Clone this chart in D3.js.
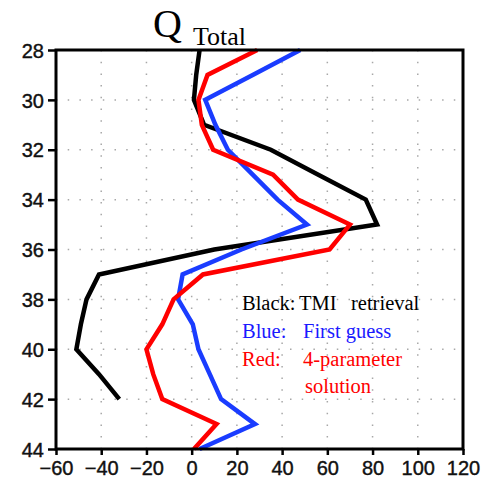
<!DOCTYPE html>
<html>
<head>
  <meta charset="UTF-8">
  <title>Q Total profile</title>
  <style>
    body { margin: 0; background: white; }
    .tick text { font-family: "Liberation Sans", Arial, sans-serif; }
    .serif { font-family: "Liberation Serif", "Times New Roman", serif; }
  </style>
</head>
<body>
<svg id="chart"></svg>
<script src="https://d3js.org/d3.v7.min.js"></script>
<script>

// data: vertical level (y) and the three profiles
var levels   = [28, 29, 30, 31, 32, 33, 34, 35, 36, 37, 38, 39, 40, 41, 42, 43, 44]
var tmiRetrieval = [3.5, 2, 1, 5.5, 35, 56, 77, 82, 10, -41, -46.5, -49, -51, -41, -32, null, null]
var firstGuess   = [48, 27, 6, 10.5, 16, 27, 38, 51, 22, -4, -6, 0.5, 3, 8, 13, 28, 3.5]
var fourParam    = [29, 7, 3, 4.5, 9.5, 36, 47, 70, 61, 5, -8, -13, -20, -17, -13, 11, 1]

var xTicks = [-60, -40, -20, 0, 20, 40, 60, 80, 100, 120]
var yTicks = [28, 30, 32, 34, 36, 38, 40, 42, 44]

// legend words: [text, x, row]
var legendWords = [
    ["Black:", 242, 0], ["TMI", 299, 0], ["retrieval", 351, 0],
    ["Blue:", 242, 1], ["First guess", 303, 1],
    ["Red:", 242, 2], ["4-parameter", 303, 2],
    ["solution", 305, 3]
]
var legendColors = ["black", "#1a1aff", "red", "red"]

let width = 496, height = 479
let mLeft = 56, mRight = 463, mTop = 50, mBottom = 449

let svg = d3.select("#chart")
    .attr("width", width)
    .attr("height", height)

let x = d3.scaleLinear().domain([-60, 120]).range([mLeft, mRight])
let y = d3.scaleLinear().domain([28, 44]).range([mTop, mBottom])

// dotted grid
svg.append("g")
    .selectAll("line")
    .data(xTicks.slice(1, -1))
    .enter()
    .append("line")
    .attr("x1", d => x(d)).attr("x2", d => x(d))
    .attr("y1", mTop).attr("y2", mBottom)
    .attr("stroke", "#a8a8a8")
    .attr("stroke-width", 1.5)
    .attr("stroke-dasharray", "1.5,10.2")

svg.append("g")
    .selectAll("line")
    .data(yTicks.slice(1, -1))
    .enter()
    .append("line")
    .attr("x1", mLeft).attr("x2", mRight)
    .attr("y1", d => y(d)).attr("y2", d => y(d))
    .attr("stroke", "#a8a8a8")
    .attr("stroke-width", 1.5)
    .attr("stroke-dasharray", "1.5,10.2")

// axes
let xAxis = svg.append("g")
    .attr("transform", "translate(0," + mBottom + ")")
    .call(d3.axisBottom(x).tickValues(xTicks).tickSize(6).tickPadding(3)
        .tickFormat(d => d < 0 ? "\u2212" + Math.abs(d) : d))
let yAxis = svg.append("g")
    .attr("transform", "translate(" + mLeft + ",0)")
    .call(d3.axisLeft(y).tickValues(yTicks).tickSize(8).tickPadding(4))

;[xAxis, yAxis].forEach(a => {
    a.select(".domain").remove()
    a.selectAll(".tick line").attr("stroke", "black").attr("stroke-width", 2.5)
    a.selectAll(".tick text")
        .attr("fill", "#111")
        .style("font-size", "20px")
        .style("stroke", "#111")
        .style("stroke-width", "0.4px")
})
xAxis.selectAll(".tick text").attr("dy", "0.85em")
yAxis.selectAll(".tick text").attr("dy", "0.36em")

// profile lines
let line = d3.line()
    .defined(d => d[0] != null)
    .x(d => x(d[0]))
    .y(d => y(d[1]))

var series = [
    { values: tmiRetrieval, color: "black" },
    { values: firstGuess, color: "#1a3cff" },
    { values: fourParam, color: "red" }
]

svg.append("g")
    .selectAll("path")
    .data(series)
    .enter()
    .append("path")
    .attr("d", s => line(s.values.map((v, i) => [v, levels[i]])))
    .attr("fill", "none")
    .attr("stroke", s => s.color)
    .attr("stroke-width", 4.5)
    .attr("stroke-linejoin", "miter")

// frame
svg.append("rect")
    .attr("x", mLeft).attr("y", mTop)
    .attr("width", mRight - mLeft).attr("height", mBottom - mTop)
    .attr("fill", "none")
    .attr("stroke", "black")
    .attr("stroke-width", 3)

// title
let title = svg.append("text")
    .attr("class", "serif")
    .attr("x", 153)
    .attr("y", 37)
    .style("font-size", "40px")
    .text("Q")
title.append("tspan")
    .attr("x", 193)
    .attr("y", 45)
    .style("font-size", "26px")
    .text("Total")

// legend
svg.append("g")
    .selectAll("text")
    .data(legendWords)
    .enter()
    .append("text")
    .attr("class", "serif")
    .style("font-size", "20.5px")
    .attr("x", d => d[1])
    .attr("y", d => 310 + d[2] * 27.8)
    .attr("fill", d => legendColors[d[2]])
    .text(d => d[0])

</script>
</body>
</html>
